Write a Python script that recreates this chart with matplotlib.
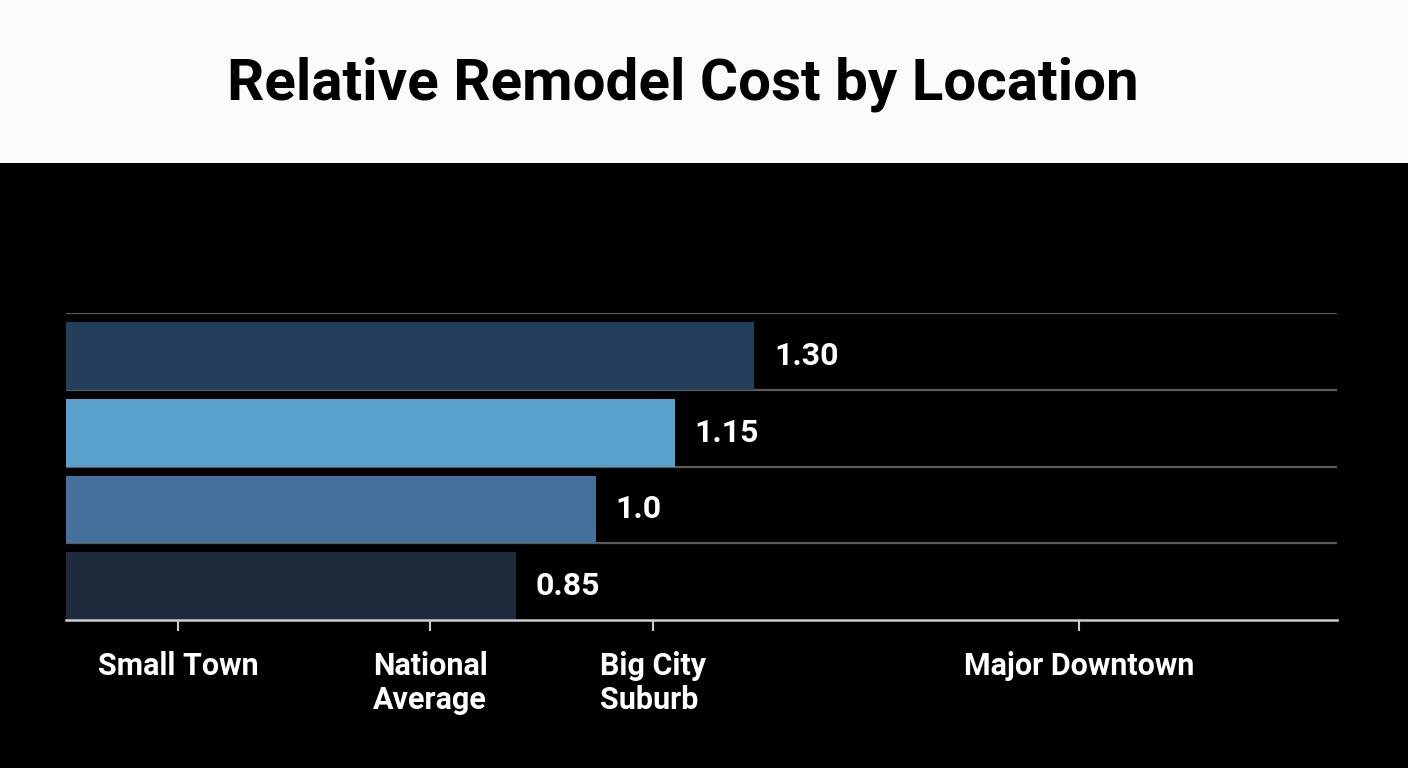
import matplotlib
matplotlib.use("Agg")
import matplotlib.pyplot as plt
from matplotlib.patches import Rectangle

# data (bottom row first)
categories = ["Small Town", "National\nAverage", "Big City\nSuburb", "Major Downtown"]
values = [0.85, 1.0, 1.15, 1.30]
value_labels = ["0.85", "1.0", "1.15", "1.30"]
bar_colors = ["#1e2b3d", "#44729c", "#5aa0cd", "#233f5c"]
tick_pos = [0.212, 0.688, 1.108, 1.913]

plt.rcParams['font.family'] = ['Roboto', 'DejaVu Sans']

fig = plt.figure(figsize=(14.08, 7.68), dpi=100, facecolor="black")

#white header band
fig.add_artist(Rectangle((0, 1 - 163/768), 1, 163/768, transform=fig.transFigure,
                         facecolor="#fbfbfb", edgecolor="none", zorder=0))
fig.text(0.485, 1 - 100/768, "Relative Remodel Cost by Location", ha="center", va="baseline",
         fontsize=42, fontweight="bold", color="black")

ax = fig.add_axes([66/1408, 1 - 620/768, 1271/1408, 307/768])
ax.set_facecolor("black")

rows = range(len(values))
ax.barh(rows, values, height=0.88, align="edge", color=bar_colors, zorder=2)

#row separators
for r in range(1, len(values) + 1):
    ax.axhline(r, color="#5a5a5a", lw=1.6, zorder=1)

for r, v, lab in zip(rows, values, value_labels):
    ax.annotate(lab, (v, r + 0.44), xytext=(14, 0), textcoords="offset points",
                ha="left", va="center", color="white", fontsize=23, fontweight="bold")

ax.set_xlim(0, 2.40)
ax.set_ylim(0, len(values))
ax.set_yticks([])
ax.set_xticks(tick_pos)
ax.set_xticklabels(categories, fontsize=22, fontweight="bold", color="white",
                   multialignment="left", linespacing=1.2)
ax.tick_params(axis="x", colors="#cccccc", length=8, width=1.5, pad=14, labelcolor="white")

for s in ["top", "left", "right"]:
    ax.spines[s].set_visible(False)
ax.spines["bottom"].set_color("#cccccc")
ax.spines["bottom"].set_linewidth(1.8)

fig.savefig("out.png", dpi=100, facecolor="black")
